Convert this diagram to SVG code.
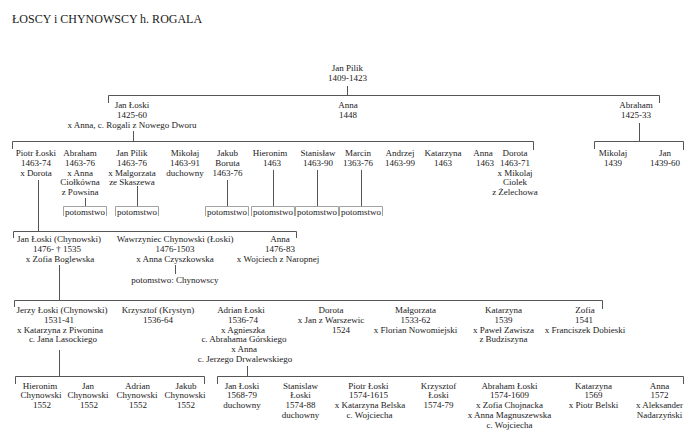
<svg xmlns="http://www.w3.org/2000/svg" width="700" height="446" viewBox="0 0 700 446">
<style>
text{font-family:"Liberation Serif","Times New Roman",serif;font-size:9px;fill:#1a1a1a;text-anchor:middle}
.title{font-size:12px;text-anchor:start}
.c{fill:none;stroke:#555;stroke-width:1}
.b{fill:none;stroke:#8a8a8a;stroke-width:0.8}
</style>
<rect width="700" height="446" fill="#fff"/>
<text class="title" x="12" y="22.5">ŁOSCY i CHYNOWSCY h. ROGALA</text>

<g id="connectors">
<path class="c" d="M347.5,86 V95.5 M108.5,103 V95.5 H659.5 V103"/>
<path class="c" d="M133.5,131 V141.5 M12.5,149 V141.5 H533.5 V150"/>
<path class="c" d="M639.5,123 V141.5 M594.5,149 V141.5 H683.5 V150"/>
<path class="c" d="M38.5,180 V231.5 M85.5,198 V206 M137.5,186 V206 M227.5,180 V206 M273.5,170 V206 M317.5,170 V206 M361.5,170 V206"/>
<path class="b" d="M63.5,216 V206.5 H106.5 V216 M115.5,216 V206.5 H158.5 V216 M205.5,216 V206.5 H248.5 V216 M251.5,216 V206.5 H294.5 V216 M295.5,216 V206.5 H338.5 V216 M339.5,216 V206.5 H382.5 V216"/>
<path class="c" d="M13.5,238 V231.5 H296.5 V238 M175.5,265 V274 M59.5,265 V300.5"/>
<path class="c" d="M14.5,307 V300.5 H602.5 V309 M59.5,350 V376.5 M247.5,366 V376.5"/>
<path class="c" d="M15.5,384 V376.5 H204.5 V384 M217.5,384 V376.5 H683.5 V384"/>
</g>

<g id="n-jan-pilik"><text x="347.5" y="70.5"><tspan x="347.5">Jan Pilik</tspan><tspan x="347.5" dy="10">1409-1423</tspan></text></g>

<g id="n-jan-loski-1"><text x="132" y="108"><tspan x="132">Jan Łoski</tspan><tspan x="132" dy="9.8">1425-60</tspan><tspan x="132" dy="9.8">x Anna, c. Rogali z Nowego Dworu</tspan></text></g>
<g id="n-anna-1"><text x="348" y="108"><tspan x="348">Anna</tspan><tspan x="348" dy="9.8">1448</tspan></text></g>
<g id="n-abraham-1"><text x="636" y="108"><tspan x="636">Abraham</tspan><tspan x="636" dy="9.8">1425-33</tspan></text></g>

<g id="n-piotr-2"><text x="36" y="156"><tspan x="36">Piotr Łoski</tspan><tspan x="36" dy="9.8">1463-74</tspan><tspan x="36" dy="9.8">x Dorota</tspan></text></g>
<g id="n-abraham-2"><text x="80" y="156"><tspan x="80">Abraham</tspan><tspan x="80" dy="9.8">1463-76</tspan><tspan x="80" dy="9.8">x Anna</tspan><tspan x="80" dy="9.8">Ciołkówna</tspan><tspan x="80" dy="9.8">z Powsina</tspan></text>
<text x="85" y="214.5">potomstwo</text></g>
<g id="n-jan-pilik-2"><text x="132" y="156"><tspan x="132">Jan Pilik</tspan><tspan x="132" dy="9.8">1463-76</tspan><tspan x="132" dy="9.8">x Malgorzata</tspan><tspan x="132" dy="9.8">ze Skaszewa</tspan></text>
<text x="137" y="214.5">potomstwo</text></g>
<g id="n-mikolaj-2"><text x="185" y="156"><tspan x="185">Mikołaj</tspan><tspan x="185" dy="9.8">1463-91</tspan><tspan x="185" dy="9.8">duchowny</tspan></text></g>
<g id="n-jakub-2"><text x="227.5" y="156"><tspan x="227.5">Jakub</tspan><tspan x="227.5" dy="9.8">Boruta</tspan><tspan x="227.5" dy="9.8">1463-76</tspan></text>
<text x="227" y="214.5">potomstwo</text></g>
<g id="n-hieronim-2"><text x="270" y="156"><tspan x="270">Hieronim</tspan><tspan x="272" dy="9.8">1463</tspan></text>
<text x="273" y="214.5">potomstwo</text></g>
<g id="n-stanislaw-2"><text x="318" y="156"><tspan x="318">Stanisław</tspan><tspan x="318" dy="9.8">1463-90</tspan></text>
<text x="317" y="214.5">potomstwo</text></g>
<g id="n-marcin-2"><text x="358" y="156"><tspan x="358">Marcin</tspan><tspan x="358" dy="9.8">1363-76</tspan></text>
<text x="361" y="214.5">potomstwo</text></g>
<g id="n-andrzej-2"><text x="400" y="156"><tspan x="400">Andrzej</tspan><tspan x="400" dy="9.8">1463-99</tspan></text></g>
<g id="n-katarzyna-2"><text x="443" y="156"><tspan x="443">Katarzyna</tspan><tspan x="443" dy="9.8">1463</tspan></text></g>
<g id="n-anna-2"><text x="483" y="156"><tspan x="483">Anna</tspan><tspan x="485" dy="9.8">1463</tspan></text></g>
<g id="n-dorota-2"><text x="515" y="156"><tspan x="515">Dorota</tspan><tspan x="515" dy="9.8">1463-71</tspan><tspan x="515" dy="9.8">x Mikolaj</tspan><tspan x="515" dy="9.8">Ciolek</tspan><tspan x="515" dy="9.8">z Żelechowa</tspan></text></g>
<g id="n-mikolaj-r"><text x="613" y="156"><tspan x="613">Mikolaj</tspan><tspan x="613" dy="9.8">1439</tspan></text></g>
<g id="n-jan-r"><text x="665" y="156"><tspan x="665">Jan</tspan><tspan x="665" dy="9.8">1439-60</tspan></text></g>

<g id="n-jan-loski-ch"><text x="59" y="242"><tspan x="59">Jan Łoski (Chynowski)</tspan><tspan x="57" dy="9.8">1476- † 1535</tspan><tspan x="60" dy="9.8">x Zofia Boglewska</tspan></text></g>
<g id="n-wawrzyniec"><text x="175" y="242"><tspan x="175">Wawrzyniec Chynowski (Łoski)</tspan><tspan x="175" dy="9.8">1476-1503</tspan><tspan x="175" dy="9.8">x Anna Czyszkowska</tspan></text>
<text x="175" y="283">potomstwo: Chynowscy</text></g>
<g id="n-anna-3"><text x="279" y="242"><tspan x="280">Anna</tspan><tspan x="280" dy="9.8">1476-83</tspan><tspan x="278" dy="9.8">x Wojciech z Naropnej</tspan></text></g>

<g id="n-jerzy"><text x="61" y="313"><tspan x="62">Jerzy Łoski (Chynowski)</tspan><tspan x="59" dy="9.8">1531-41</tspan><tspan x="60" dy="9.8">x Katarzyna z Piwonina</tspan><tspan x="63" dy="9.8">c. Jana Lasockiego</tspan></text></g>
<g id="n-krzysztof-4"><text x="158" y="313"><tspan x="158">Krzysztof (Krystyn)</tspan><tspan x="158" dy="9.8">1536-64</tspan></text></g>
<g id="n-adrian-4"><text x="244" y="313"><tspan x="241">Adrian Łoski</tspan><tspan x="243" dy="9.8">1536-74</tspan><tspan x="243" dy="9.8">x Agnieszka</tspan><tspan x="244" dy="9.8">c. Abrahama Górskiego</tspan><tspan x="244" dy="9.8">x Anna</tspan><tspan x="245" dy="9.8">c. Jerzego Drwalewskiego</tspan></text></g>
<g id="n-dorota-4"><text x="331" y="313"><tspan x="331">Dorota</tspan><tspan x="331" dy="9.8">x Jan z Warszewic</tspan><tspan x="341" dy="9.8">1524</tspan></text></g>
<g id="n-malgorzata"><text x="415.5" y="313"><tspan x="415.5">Małgorzata</tspan><tspan x="415.5" dy="9.8">1533-62</tspan><tspan x="415.5" dy="9.8">x Florian Nowomiejski</tspan></text></g>
<g id="n-katarzyna-4"><text x="503.5" y="313"><tspan x="503.5">Katarzyna</tspan><tspan x="503.5" dy="9.8">1539</tspan><tspan x="503.5" dy="9.8">x Paweł Zawisza</tspan><tspan x="503.5" dy="9.8">z Budziszyna</tspan></text></g>
<g id="n-zofia"><text x="585" y="313"><tspan x="585">Zofia</tspan><tspan x="584" dy="9.8">1541</tspan><tspan x="585" dy="9.8">x Franciszek Dobieski</tspan></text></g>

<g id="n-hieronim-ch"><text x="41" y="388.5"><tspan x="40">Hieronim</tspan><tspan x="41" dy="9.8">Chynowski</tspan><tspan x="42" dy="9.8">1552</tspan></text></g>
<g id="n-jan-ch"><text x="88" y="388.5"><tspan x="88">Jan</tspan><tspan x="88" dy="9.8">Chynowski</tspan><tspan x="89" dy="9.8">1552</tspan></text></g>
<g id="n-adrian-ch"><text x="137" y="388.5"><tspan x="137.5">Adrian</tspan><tspan x="137" dy="9.8">Chynowski</tspan><tspan x="138" dy="9.8">1552</tspan></text></g>
<g id="n-jakub-ch"><text x="185.5" y="388.5"><tspan x="186">Jakub</tspan><tspan x="185" dy="9.8">Chynowski</tspan><tspan x="186" dy="9.8">1552</tspan></text></g>
<g id="n-jan-loski-5"><text x="242" y="388.5"><tspan x="242">Jan Łoski</tspan><tspan x="242" dy="9.8">1568-79</tspan><tspan x="242" dy="9.8">duchowny</tspan></text></g>
<g id="n-stanislaw-5"><text x="300.5" y="388.5"><tspan x="300.5">Stanislaw</tspan><tspan x="300.5" dy="9.8">Łoski</tspan><tspan x="300.5" dy="9.8">1574-88</tspan><tspan x="300.5" dy="9.8">duchowny</tspan></text></g>
<g id="n-piotr-5"><text x="369" y="388.5"><tspan x="368.5">Piotr Łoski</tspan><tspan x="368.5" dy="9.8">1574-1615</tspan><tspan x="370" dy="9.8">x Katarzyna Belska</tspan><tspan x="369.5" dy="9.8">c. Wojciecha</tspan></text></g>
<g id="n-krzysztof-5"><text x="438.5" y="388.5"><tspan x="438.5">Krzysztof</tspan><tspan x="438.5" dy="9.8">Łoski</tspan><tspan x="438.5" dy="9.8">1574-79</tspan></text></g>
<g id="n-abraham-5"><text x="509.5" y="388.5"><tspan x="509.5">Abraham Łoski</tspan><tspan x="509.5" dy="9.8">1574-1609</tspan><tspan x="509.5" dy="9.8">x Zofia Chojnacka</tspan><tspan x="509.5" dy="9.8">x Anna Magnuszewska</tspan><tspan x="509.5" dy="9.8">c. Wojciecha</tspan></text></g>
<g id="n-katarzyna-5"><text x="593.5" y="388.5"><tspan x="593.5">Katarzyna</tspan><tspan x="593.5" dy="9.8">1569</tspan><tspan x="593.5" dy="9.8">x Piotr Belski</tspan></text></g>
<g id="n-anna-5"><text x="659.5" y="388.5"><tspan x="659.5">Anna</tspan><tspan x="659.5" dy="9.8">1572</tspan><tspan x="659.5" dy="9.8">x Aleksander</tspan><tspan x="659.5" dy="9.8">Nadarzyński</tspan></text></g>
</svg>
